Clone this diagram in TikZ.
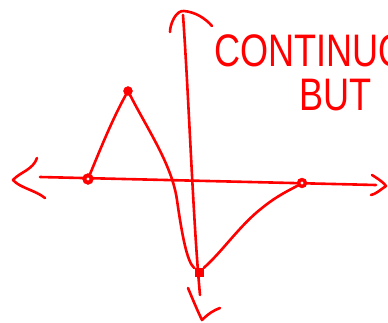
\documentclass[tikz,border=0pt]{standalone}
\usepackage{fontspec}
\setmainfont{Liberation Sans}
\usetikzlibrary{positioning}
\definecolor{pen}{RGB}{255,0,0}

\begin{document}
\begin{tikzpicture}[
    x=1pt, y=-1pt,
    ink/.style={draw=pen, line width=2.6pt, line cap=round, line join=round},
    dot/.style={circle, fill=pen, draw=pen, inner sep=0pt, minimum size=10pt},
    sqdot/.style={rectangle, fill=pen, inner sep=0pt, minimum size=9pt},
    scrawl/.style={text=pen, inner sep=0pt, anchor=west, font=\fontsize{38}{40}\selectfont}
]
\useasboundingbox (0,0) rectangle (388,322);
\clip (0,0) rectangle (388,322);

% axes
\coordinate (xl) at (40,177);
\coordinate (xr) at (376,185);
\coordinate (yt) at (183,15);
\coordinate (yb) at (200,295);
\draw[ink] (xl) -- (xr);
\draw[ink] (yt) .. controls (189,100) and (193,220) .. (yb);

% arrow heads, drawn by hand
\draw[ink] (37,158) .. controls (33,170) and (20,172) .. (13,180) .. controls (20,188) and (35,190) .. (45,198);
\draw[ink] (372,175) .. controls (380,180) and (384,183) .. (386,186) .. controls (380,190) and (376,194) .. (371,195);
\draw[ink] (170,32) .. controls (170,24) and (176,10) .. (184,11) .. controls (195,12) and (205,18) .. (212,26);
\draw[ink] (188,288) .. controls (193,300) and (198,312) .. (202,320) .. controls (208,314) and (214,310) .. (220,308);

% points of the graph
\node[dot, minimum size=11pt] (a) at (88,179) {};
\node[dot, minimum size=9pt] (b) at (128,91) {};
\node[sqdot] (c) at (199,272) {};
\node[dot, minimum size=10pt] (d) at (302,183) {};
\fill[white] (a) circle (1.6pt);
\fill[white] (d) circle (1.6pt);

% the graph
\draw[ink] (a) .. controls (100,150) and (112,120) .. (b);
\draw[ink] (b) .. controls (148,130) and (172,165) .. (177,200) .. controls (182,235) and (187,262) .. (c);
\draw[ink] (c) .. controls (222,252) and (240,225) .. (262,208) .. controls (278,195) and (290,190) .. (d);

% words
\node[scrawl] (w1) at (214,51) {\scalebox{0.95}[1.2]{CONTINUOUS}};
\node[scrawl] (w2) at (299,95) {\scalebox{0.95}[1.2]{BUT}};
\end{tikzpicture}
\end{document}
